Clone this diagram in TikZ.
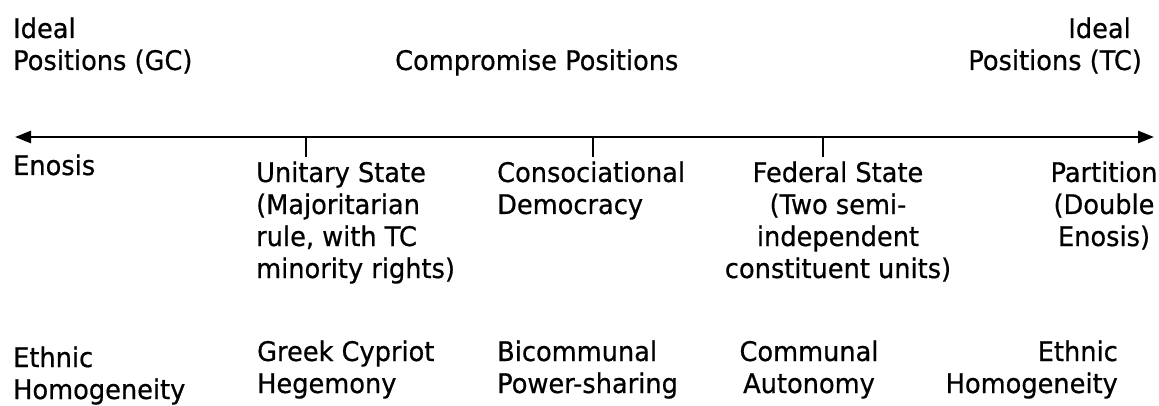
\documentclass[tikz,border=0pt]{standalone}
\usepackage{fontspec}
\setmainfont{DejaVu Sans}[FakeStretch=0.95,FakeBold=0.6]
\usetikzlibrary{arrows.meta}
\begin{document}
\begin{tikzpicture}[x=1pt,y=-1pt,
  lbl/.style={inner sep=0pt, font=\fontsize{27}{32}\selectfont},
  axisline/.style={line width=2.6pt, {Triangle[length=16pt,width=12pt]}-{Triangle[length=16pt,width=12pt]}},
  tickline/.style={line width=2pt}]
\useasboundingbox (0,0) rectangle (1159,406);
% axis
\coordinate (aL) at (15,137);
\coordinate (aR) at (1154,137);
\draw[axisline] (aL) -- (aR);
\coordinate (t1) at (306,137); \coordinate (t1e) at (306,157);
\coordinate (t2) at (593,137); \coordinate (t2e) at (593,157);
\coordinate (t3) at (823,137); \coordinate (t3e) at (823,157);
\draw[tickline] (t1) -- (t1e);
\draw[tickline] (t2) -- (t2e);
\draw[tickline] (t3) -- (t3e);
% top row (base anchor = baseline of the last line)
\node[lbl, anchor=base west, align=left] (gc) at (13,70) {Ideal\\Positions (GC)};
\node[lbl, anchor=base west] (comp) at (395,70) {Compromise Positions};
\node[lbl, anchor=base east] (tcI) at (1131,38) {Ideal};
\node[lbl, anchor=base east] (tcP) at (1142,70) {Positions (TC)};
% middle row
\node[lbl, anchor=base west] (enosis) at (13,175) {Enosis};
\node[lbl, anchor=base west, align=left] (unitary) at (256,278) {Unitary State\\(Majoritarian\\rule, with TC\\minority rights)};
\node[lbl, anchor=base west, align=left] (conso) at (497,214) {Consociational\\Democracy};
\node[lbl, anchor=base, align=center] (federal) at (838,278) {Federal State\\(Two semi-\\independent\\constituent units)};
\node[lbl, anchor=base, align=center] (partition) at (1104,246) {Partition\\(Double\\Enosis)};
% bottom row
\node[lbl, anchor=base west, align=left] (ethL) at (13,399) {Ethnic\\Homogeneity};
\node[lbl, anchor=base west, align=left] (greek) at (257,393) {Greek Cypriot\\Hegemony};
\node[lbl, anchor=base west, align=left] (bicom) at (497,393) {Bicommunal\\Power-sharing};
\node[lbl, anchor=base, align=center] (commun) at (809,393) {Communal\\Autonomy};
\node[lbl, anchor=base east, align=right] (ethR) at (1118,393) {Ethnic\\Homogeneity};
\end{tikzpicture}
\end{document}
